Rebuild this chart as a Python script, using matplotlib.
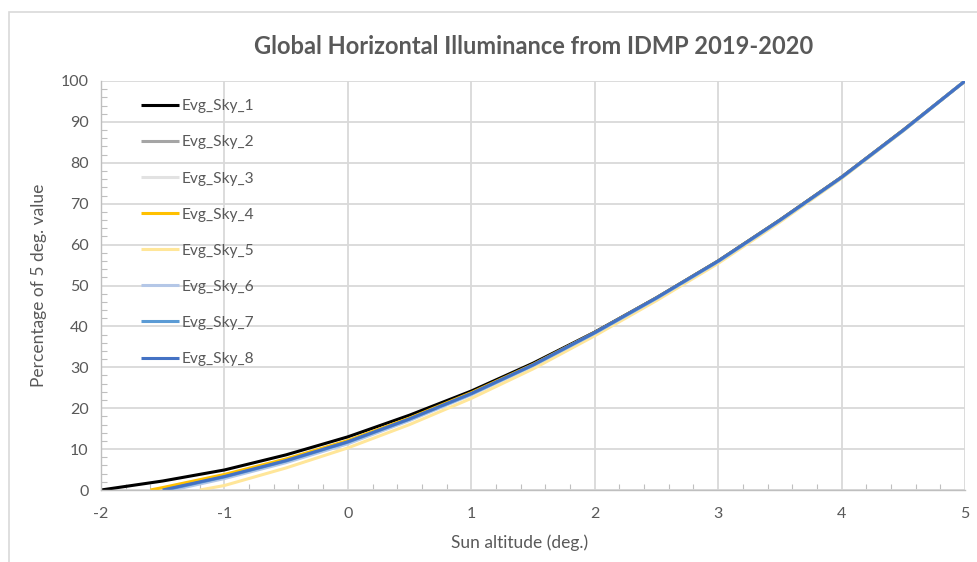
import matplotlib
matplotlib.use('Agg')
import matplotlib.pyplot as plt
from matplotlib.patches import Rectangle
from matplotlib.ticker import MultipleLocator

plt.rcParams['font.family'] = ['Lato', 'DejaVu Sans']
plt.rcParams['axes.unicode_minus'] = False

# sun altitude (deg.) and percentage of the 5 deg. value for each sky type
x_sky1 = [-2.0, -1.5, -1.0, -0.5, 0.0, 0.5, 1.0, 1.5, 2.0, 2.5, 3.0, 3.5, 4.0, 4.5, 5.0]
y_sky1 = [0.0, 2.2, 4.9, 8.6, 13.0, 18.3, 24.2, 31.0, 38.6, 47.0, 56.0, 66.0, 76.5, 88.0, 100.0]

x_sky2 = [-1.5, -1.0, -0.5, 0.0, 0.5, 1.0, 1.5, 2.0, 2.5, 3.0, 3.5, 4.0, 4.5, 5.0]
y_sky2 = [0.0, 3.2, 7.1, 11.7, 17.3, 23.5, 30.5, 38.4, 46.9, 55.9, 65.9, 76.4, 87.9, 100.0]

x_sky3 = [-1.45, -1.0, -0.5, 0.0, 0.5, 1.0, 1.5, 2.0, 2.5, 3.0, 3.5, 4.0, 4.5, 5.0]
y_sky3 = [0.0, 3.0, 6.9, 11.5, 17.1, 23.4, 30.4, 38.3, 46.8, 55.8, 65.8, 76.4, 87.9, 100.0]

x_sky4 = [-1.6, -1.5, -1.0, -0.5, 0.0, 0.5, 1.0, 1.5, 2.0, 2.5, 3.0, 3.5, 4.0, 4.5, 5.0]
y_sky4 = [0.0, 0.6, 3.8, 7.6, 12.1, 17.6, 23.8, 30.7, 38.5, 47.0, 56.0, 66.0, 76.5, 88.0, 100.0]

x_sky5 = [-1.2, -1.0, -0.5, 0.0, 0.5, 1.0, 1.5, 2.0, 2.5, 3.0, 3.5, 4.0, 4.5, 5.0]
y_sky5 = [0.0, 1.1, 5.4, 10.3, 16.0, 22.4, 29.6, 37.7, 46.3, 55.4, 65.5, 76.2, 87.8, 100.0]

x_sky6 = [-1.42, -1.0, -0.5, 0.0, 0.5, 1.0, 1.5, 2.0, 2.5, 3.0, 3.5, 4.0, 4.5, 5.0]
y_sky6 = [0.0, 2.8, 6.7, 11.3, 17.0, 23.3, 30.4, 38.3, 46.8, 55.8, 65.8, 76.4, 87.9, 100.0]

x_sky7 = [-1.48, -1.0, -0.5, 0.0, 0.5, 1.0, 1.5, 2.0, 2.5, 3.0, 3.5, 4.0, 4.5, 5.0]
y_sky7 = [0.0, 3.2, 7.1, 11.7, 17.3, 23.5, 30.5, 38.4, 46.9, 55.9, 65.9, 76.4, 87.9, 100.0]

x_sky8 = [-1.5, -1.0, -0.5, 0.0, 0.5, 1.0, 1.5, 2.0, 2.5, 3.0, 3.5, 4.0, 4.5, 5.0]
y_sky8 = [0.0, 3.3, 7.2, 11.8, 17.4, 23.6, 30.6, 38.5, 47.0, 56.0, 66.0, 76.5, 88.0, 100.0]

series = [
    ('Evg_Sky_1', x_sky1, y_sky1, '#000000'),
    ('Evg_Sky_2', x_sky2, y_sky2, '#A5A5A5'),
    ('Evg_Sky_3', x_sky3, y_sky3, '#E2E2E2'),
    ('Evg_Sky_4', x_sky4, y_sky4, '#FFC000'),
    ('Evg_Sky_5', x_sky5, y_sky5, '#FFE699'),
    ('Evg_Sky_6', x_sky6, y_sky6, '#B4C7E7'),
    ('Evg_Sky_7', x_sky7, y_sky7, '#5B9BD5'),
    ('Evg_Sky_8', x_sky8, y_sky8, '#4472C4'),
]

txt = '#595959'
grid = '#D9D9D9'

fig = plt.figure(figsize=(9.77, 5.62), dpi=100)
ax = fig.add_axes([101 / 977, 72 / 562, 864 / 977, 409 / 562])

# outer chart border
fig.patches.append(Rectangle((9 / 977, -0.05), 1.2, 1 - 12 / 562 + 0.05,
                             transform=fig.transFigure, fill=False,
                             edgecolor=grid, linewidth=1.2))

for name, xs, ys, col in series:
    ax.plot(xs, ys, color=col, lw=2.2, label=name, solid_capstyle='butt')

ax.set_xlim(-2, 5)
ax.set_ylim(0, 100)
ax.xaxis.set_major_locator(MultipleLocator(1))
ax.xaxis.set_minor_locator(MultipleLocator(0.2))
ax.yaxis.set_major_locator(MultipleLocator(10))
ax.yaxis.set_minor_locator(MultipleLocator(2))
ax.grid(True, which='major', color=grid, lw=1.3)
ax.set_axisbelow(True)

for s in ['top', 'right']:
    ax.spines[s].set_visible(False)
for s in ['left', 'bottom']:
    ax.spines[s].set_color('#BFBFBF')
    ax.spines[s].set_linewidth(1.0)

ax.tick_params(which='major', length=0, labelsize=11.5, labelcolor=txt, pad=9)
ax.tick_params(which='minor', direction='in', length=4, color='#BFBFBF', width=0.8)
ax.tick_params(axis='x', which='major', pad=12)

ax.set_xlabel('Sun altitude (deg.)', fontsize=12.5, color=txt)
ax.xaxis.set_label_coords(0.485, -0.108)
ax.set_ylabel('Percentage of 5 deg. value', fontsize=12.5, color=txt)
ax.yaxis.set_label_coords(-0.062, 0.5)

fig.text(0.5465, 1 - 47 / 562, 'Global Horizontal Illuminance from IDMP 2019-2020',
         ha='center', va='center', fontsize=17, fontweight='bold', color=txt)

leg = ax.legend(loc='upper left', bbox_to_anchor=(0.046, 0.955), frameon=False,
                fontsize=11.2, labelspacing=1.42, handlelength=2.45,
                handletextpad=0.15, borderpad=0, borderaxespad=0)
for t in leg.get_texts():
    t.set_color(txt)

fig.savefig('out.png', dpi=100)
